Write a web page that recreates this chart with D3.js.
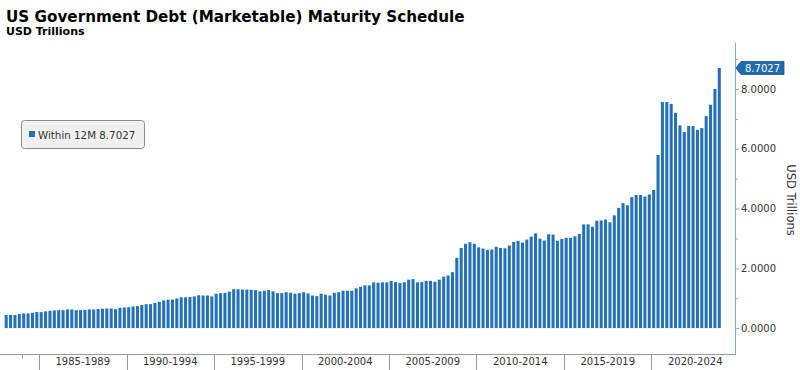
<!DOCTYPE html>
<html lang="en">
<head>
<meta charset="utf-8">
<title>US Government Debt (Marketable) Maturity Schedule</title>
<style>
 body {
     margin: 0;
     background: #fff;
     font-family: "DejaVu Sans", sans-serif;
 }
 svg text {
     fill: #333;
 }
</style>
<script src="https://d3js.org/d3.v7.min.js"></script>
</head>
<body>
<div id="chart"></div>
<script>

 //Data: quarterly debt maturing within 12 months, USD trillions, from 1983 Q1
 const firstYear = 1983;
 const within12m = [
     0.435, 0.44, 0.44, 0.47, 0.49, 0.49, 0.51, 0.535, 0.535, 0.56, 0.58, 0.59, 0.60, 0.60,
     0.625, 0.625, 0.60, 0.60, 0.61, 0.625, 0.625, 0.635, 0.645, 0.655, 0.655, 0.635, 0.68, 0.69,
     0.70, 0.725, 0.735, 0.77, 0.80, 0.80, 0.84, 0.88, 0.925, 0.95, 0.955, 0.99, 1.03, 1.03,
     1.04, 1.06, 1.10, 1.09, 1.09, 1.06, 1.15, 1.17, 1.18, 1.22, 1.30, 1.30, 1.29, 1.29, 1.28,
     1.27, 1.23, 1.25, 1.27, 1.23, 1.17, 1.17, 1.20, 1.18, 1.15, 1.17, 1.20, 1.16, 1.09, 1.07,
     1.15, 1.12, 1.09, 1.18, 1.20, 1.25, 1.25, 1.25, 1.33, 1.38, 1.43, 1.43, 1.53, 1.52,
     1.53, 1.53, 1.58, 1.54, 1.51, 1.53, 1.62, 1.64, 1.53, 1.54, 1.58, 1.58, 1.55, 1.62,
     1.72, 1.76, 1.87, 2.35, 2.68, 2.82, 2.87, 2.82, 2.70, 2.66, 2.62, 2.63, 2.72, 2.68,
     2.67, 2.76, 2.88, 2.92, 2.86, 2.96, 3.06, 3.17, 2.99, 2.93, 3.14, 3.13, 2.92, 2.98,
     3.02, 3.02, 3.07, 3.15, 3.47, 3.47, 3.39, 3.59, 3.60, 3.63, 3.54, 3.77, 4.02, 4.18, 4.11,
     4.38, 4.45, 4.45, 4.40, 4.47, 4.62,
     5.79, 7.56, 7.56, 7.50, 7.20, 6.78, 6.56, 6.76, 6.76, 6.63, 6.69, 7.09, 7.47, 8.00, 8.7027
 ];
 const quarters = within12m.map((d, i) => (firstYear + Math.floor(i / 4)) + ' Q' + (i % 4 + 1));
 const groupStarts = [1985, 1990, 1995, 2000, 2005, 2010, 2015, 2020];
 const groupLabels = ['1985-1989', '1990-1994', '1995-1999', '2000-2004', '2005-2009', '2010-2014', '2015-2019', '2020-2024'];
 const minorYears = [1984];
 const yMajor = [0, 2, 4, 6, 8];
 const yMinor = [1, 3, 5, 7, 9];
 const lastValue = within12m[within12m.length - 1];

 //Display specs
 const W = 800, H = 370;
 const plotRight = 735, axisY = 354.5;
 const barColor = '#2372b8';
 const axisBlue = '#7aaedc';

 const svg = d3.select('#chart').append('svg')
     .attr('width', W)
     .attr('height', H);

 //Scales
 const x = d3.scaleBand().domain(quarters).range([3.35, 722.15]).padding(0.3);
 const y = d3.scaleLinear().domain([-0.9, 9.57]).range([355, 42]);
 const edge = q => x(q) - x.step() * x.paddingInner() / 2;

 //Title
 svg.append('text')
    .attr('x', 6).attr('y', 21.5)
    .style('font-size', '15.2px').style('font-weight', 'bold').style('fill', '#000')
    .text('US Government Debt (Marketable) Maturity Schedule');
 svg.append('text')
    .attr('x', 6).attr('y', 35)
    .style('font-size', '11px').style('font-weight', 'bold').style('fill', '#000')
    .text('USD Trillions');

 //Bars
 svg.append('g').selectAll('rect')
    .data(within12m)
    .join('rect')
    .attr('x', (d, i) => x(quarters[i]))
    .attr('width', x.bandwidth())
    .attr('y', d => y(d))
    .attr('height', d => y(0) - y(d))
    .attr('fill', barColor);

 //X axis
 svg.append('line')
    .attr('x1', 0).attr('x2', plotRight)
    .attr('y1', axisY).attr('y2', axisY)
    .attr('stroke', '#9a9a9a');

 const groupEdges = groupStarts.map(yr => edge(yr + ' Q1'));
 svg.append('g').selectAll('line')
    .data(groupEdges)
    .join('line')
    .attr('x1', d => Math.round(d) + 0.5).attr('x2', d => Math.round(d) + 0.5)
    .attr('y1', axisY).attr('y2', H)
    .attr('stroke', '#9a9a9a');

 svg.append('g').selectAll('line')
    .data(minorYears)
    .join('line')
    .attr('x1', d => Math.round(edge(d + ' Q1')) + 0.5).attr('x2', d => Math.round(edge(d + ' Q1')) + 0.5)
    .attr('y1', axisY).attr('y2', axisY + 4)
    .attr('stroke', '#9a9a9a');

 svg.append('g').selectAll('text')
    .data(groupLabels)
    .join('text')
    .attr('x', (d, i) => groupEdges[i] + x.step() * 10)
    .attr('y', 365)
    .attr('text-anchor', 'middle')
    .style('font-size', '10px')
    .text(d => d);

 //Y axis
 const yAxis = svg.append('g')
     .attr('transform', 'translate(' + plotRight + ',0)')
     .call(d3.axisRight(y).tickValues(yMajor).tickFormat(d3.format('.4f')).tickSize(4).tickPadding(2).tickSizeOuter(0));
 yAxis.select('.domain').attr('stroke', axisBlue);
 yAxis.selectAll('.tick line').attr('stroke', axisBlue);
 yAxis.selectAll('.tick text')
      .style('font-size', '10px').style('font-family', '"DejaVu Sans", sans-serif').attr('fill', '#333');

 const yMinorAxis = svg.append('g')
     .attr('transform', 'translate(' + plotRight + ',0)')
     .call(d3.axisRight(y).tickValues(yMinor).tickFormat('').tickSize(3));
 yMinorAxis.select('.domain').remove();
 yMinorAxis.selectAll('.tick line').attr('stroke', axisBlue);

 svg.append('text')
    .attr('transform', 'translate(786.5,200)rotate(90)')
    .attr('text-anchor', 'middle')
    .style('font-size', '11.5px')
    .text('USD Trillions');

 //Last value tag
 const ty = y(lastValue);
 svg.append('path')
    .attr('d', 'M736,' + ty + 'L741,' + (ty - 6.5) + 'H784V' + (ty + 6.5) + 'H741Z')
    .attr('fill', '#1f6cae')
    .attr('stroke', '#174f80')
    .attr('stroke-width', 0.8);
 svg.append('text')
    .attr('x', 762.5).attr('y', ty + 3.8)
    .attr('text-anchor', 'middle')
    .style('font-size', '10px').style('fill', '#fff')
    .text(d3.format('.4f')(lastValue));

 //Legend
 const legend = svg.append('g');
 legend.append('rect')
       .attr('x', 21.5).attr('y', 120.5)
       .attr('width', 123).attr('height', 28)
       .attr('rx', 3)
       .attr('fill', '#f0f0f0')
       .attr('stroke', '#8c8c8c');
 legend.append('rect')
       .attr('x', 29).attr('y', 131)
       .attr('width', 6).attr('height', 6)
       .attr('fill', barColor);
 legend.append('text')
       .attr('x', 38).attr('y', 138.5)
       .style('font-size', '10.3px')
       .text('Within 12M ' + d3.format('.4f')(lastValue));

</script>
</body>
</html>
